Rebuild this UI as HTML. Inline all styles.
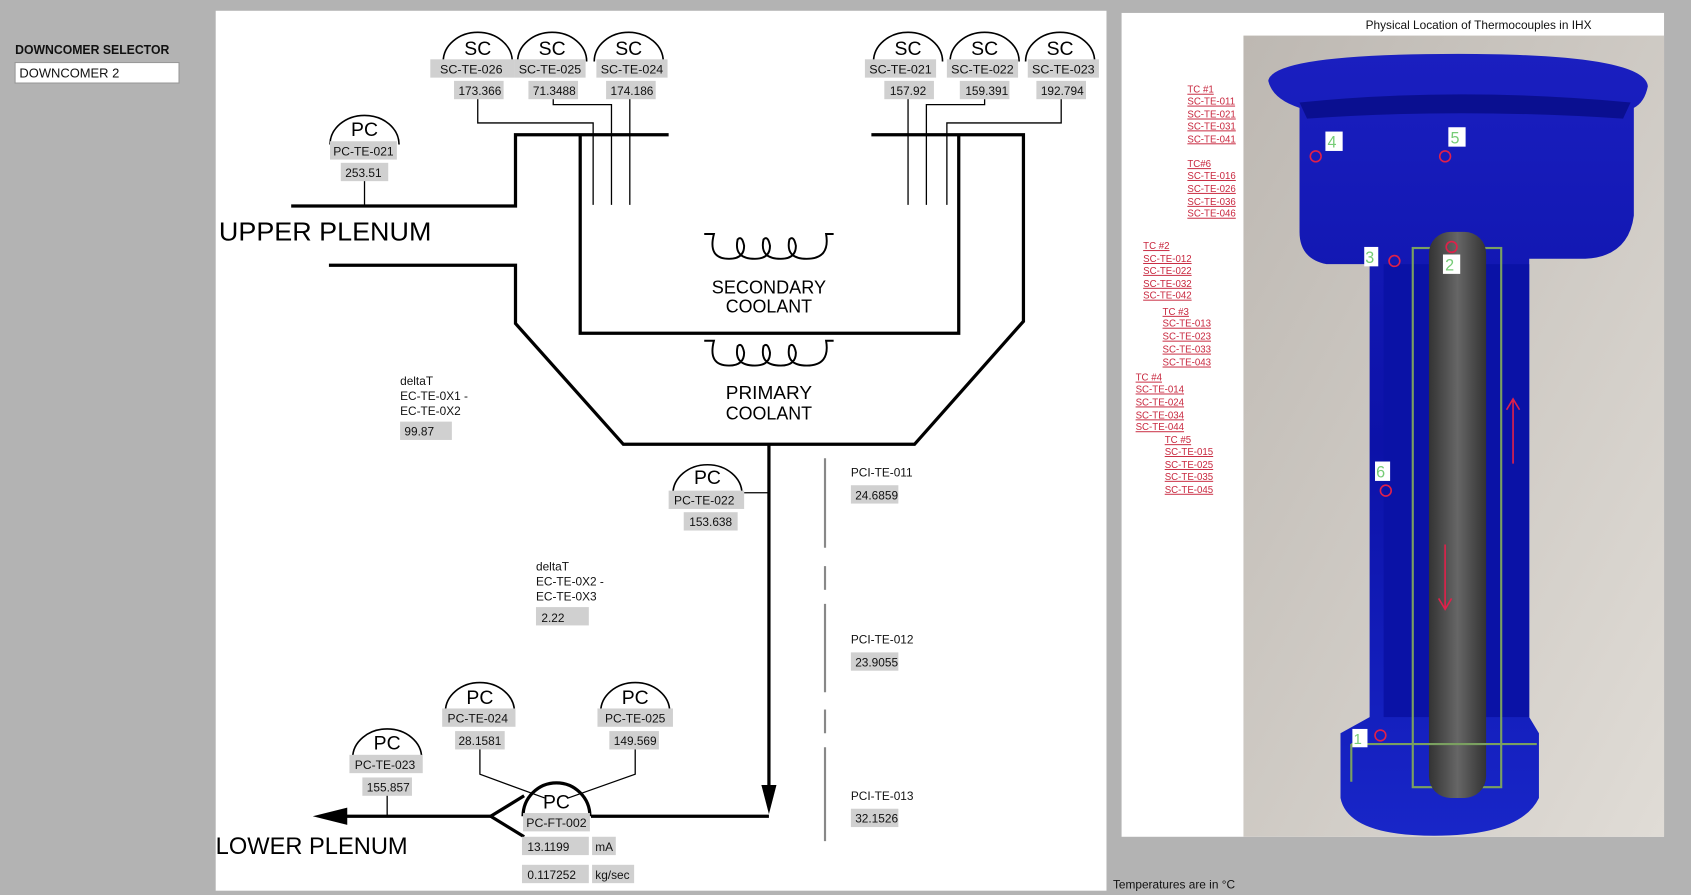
<!DOCTYPE html>
<html><head><meta charset="utf-8"><style>
html,body{margin:0;padding:0;background:#b3b3b3;}
svg{display:block;}
text{font-family:"Liberation Sans",sans-serif;}
.tag{fill:#d0d0d0;}
.t{font-size:11px;fill:#111;}
.lnk{font-size:9px;fill:#c8283f;text-decoration:underline;}
</style></head><body>
<svg width="1691" height="895" viewBox="0 0 1568 830" preserveAspectRatio="none" xmlns="http://www.w3.org/2000/svg">
<defs>
<linearGradient id="bg" x1="0" y1="0" x2="1" y2="1"><stop offset="0" stop-color="#bdb8b2"/><stop offset="1" stop-color="#e0dcd6"/></linearGradient>
<linearGradient id="cup" x1="0" y1="0" x2="0" y2="1"><stop offset="0" stop-color="#1a1fc0"/><stop offset="0.5" stop-color="#0c12a8"/><stop offset="1" stop-color="#1826c8"/></linearGradient>
<linearGradient id="tube" x1="0" y1="0" x2="1" y2="0"><stop offset="0" stop-color="#333"/><stop offset="0.5" stop-color="#666"/><stop offset="1" stop-color="#333"/></linearGradient>
</defs>
<rect width="1568" height="830" fill="#b3b3b3"/>
<text x="14" y="50" font-size="12" font-weight="bold" fill="#111" textLength="143" lengthAdjust="spacingAndGlyphs">DOWNCOMER SELECTOR</text>
<rect x="14" y="58" width="152" height="19" fill="#fff" stroke="#999"/>
<text x="18" y="72" font-size="12" fill="#111">DOWNCOMER 2</text>
<rect x="200" y="10" width="826" height="816" fill="#fff"/>

<g stroke="#000" stroke-width="3" fill="none">
<path d="M270 191 H478 V125 H620"/>
<path d="M538 125 V309 H889 V125"/>
<path d="M808 125 H949 V298 L848 412 H578 L478 300 V246 H305"/>
<path d="M713 412 V745"/>
<path d="M713 757 H548"/>
<path d="M455 757 H318"/>
<path d="M486 738 L455 757 L486 776"/>
</g>
<polygon points="713,755 706,728 720,728" fill="#000"/>
<polygon points="290,757 322,749 322,765" fill="#000"/>
<g stroke="#000" stroke-width="1.2" fill="none">
<path d="M443 91 V114 H550 V190"/>
<path d="M513 91 V97 H567 V190"/>
<path d="M584 91 V190"/>
<path d="M842 91 V190"/>
<path d="M913 91 V97 H859 V190"/>
<path d="M984 91 V114 H878 V190"/>
<path d="M338 167 V191"/>
<path d="M690 457 H713"/>
<path d="M359 737 V757"/>
<path d="M445 694 V718 L505 740"/>
<path d="M589 694 V718 L527 740"/>
</g>
<g stroke="#000" stroke-width="1.8" fill="none">
<path d="M653 217 H662 Q656 240 676 240 Q690 240 690 228 Q688 218 684 222 Q680 240 700 240 Q714 240 714 228 Q712 218 708 222 Q704 240 724 240 Q738 240 738 228 Q736 218 732 222 Q728 240 748 240 Q770 240 766 217 H773"/>
<path d="M653 316 H662 Q656 339 676 339 Q690 339 690 327 Q688 317 684 321 Q680 339 700 339 Q714 339 714 327 Q712 317 708 321 Q704 339 724 339 Q738 339 738 327 Q736 317 732 321 Q728 339 748 339 Q770 339 766 316 H773"/>
</g>
<g font-size="17" fill="#000" text-anchor="middle">
<text x="713" y="272" textLength="106" lengthAdjust="spacingAndGlyphs">SECONDARY</text><text x="713" y="290" textLength="80" lengthAdjust="spacingAndGlyphs">COOLANT</text>
<text x="713" y="370" textLength="80" lengthAdjust="spacingAndGlyphs">PRIMARY</text><text x="713" y="389" textLength="80" lengthAdjust="spacingAndGlyphs">COOLANT</text>
</g>
<text x="203" y="223" font-size="24" fill="#000" textLength="197" lengthAdjust="spacingAndGlyphs">UPPER  PLENUM</text>
<text x="200" y="792" font-size="22" fill="#000" textLength="178" lengthAdjust="spacingAndGlyphs">LOWER  PLENUM</text>

<g stroke="#000" stroke-width="1.5" fill="none">
<path d="M411 57 A32 27 0 0 1 475 57"/><path d="M480 57 A32 27 0 0 1 544 57"/><path d="M551 57 A32 27 0 0 1 615 57"/>
<path d="M810 57 A32 27 0 0 1 874 57"/><path d="M881 57 A32 27 0 0 1 945 57"/><path d="M951 57 A32 27 0 0 1 1015 57"/>
<path d="M306 134 A32 27 0 0 1 370 134"/>
<path d="M624 458 A32 27 0 0 1 688 458"/>
<path d="M327 703 A32 27 0 0 1 391 703"/>
<path d="M413 660 A32 27 0 0 1 477 660"/>
<path d="M557 660 A32 27 0 0 1 621 660"/>
</g>
<path d="M485 757 A31 31 0 0 1 547 757" stroke="#000" stroke-width="3" fill="none"/>
<g font-size="18" fill="#000" text-anchor="middle">
<text x="443" y="51">SC</text><text x="512" y="51">SC</text><text x="583" y="51">SC</text>
<text x="842" y="51">SC</text><text x="913" y="51">SC</text><text x="983" y="51">SC</text>
<text x="338" y="126">PC</text><text x="656" y="449">PC</text><text x="359" y="695">PC</text>
<text x="445" y="653">PC</text><text x="589" y="653">PC</text><text x="516" y="750">PC</text>
</g>
<g class="tag">
<rect x="399" y="55" width="78" height="17"/><rect x="421" y="75" width="46" height="17"/>
<rect x="477" y="55" width="66" height="17"/><rect x="490" y="75" width="46" height="17"/>
<rect x="553" y="55" width="66" height="17"/><rect x="562" y="75" width="46" height="17"/>
<rect x="802" y="55" width="66" height="17"/><rect x="820" y="75" width="46" height="17"/>
<rect x="878" y="55" width="66" height="17"/><rect x="890" y="75" width="46" height="17"/>
<rect x="953" y="55" width="66" height="17"/><rect x="961" y="75" width="46" height="17"/>
<rect x="306" y="131" width="62" height="17"/><rect x="316" y="151" width="44" height="17"/>
<rect x="620" y="455" width="70" height="17"/><rect x="634" y="475" width="50" height="17"/>
<rect x="324" y="700" width="68" height="17"/><rect x="336" y="721" width="46" height="17"/>
<rect x="410" y="657" width="68" height="17"/><rect x="422" y="678" width="46" height="17"/>
<rect x="554" y="657" width="70" height="17"/><rect x="565" y="678" width="46" height="17"/>
<rect x="485" y="754" width="62" height="17"/>
<rect x="484" y="776" width="62" height="17"/><rect x="549" y="776" width="22" height="17"/>
<rect x="484" y="802" width="62" height="17"/><rect x="549" y="802" width="39" height="17"/>
<rect x="371" y="391" width="48" height="17"/><rect x="497" y="563" width="49" height="17"/>
<rect x="789" y="450" width="44" height="17"/><rect x="789" y="605" width="44" height="17"/><rect x="789" y="750" width="44" height="17"/>
</g>
<g class="t" text-anchor="middle">
<text x="437" y="68" textLength="58" lengthAdjust="spacingAndGlyphs">SC-TE-026</text><text x="445" y="88">173.366</text>
<text x="510" y="68" textLength="58" lengthAdjust="spacingAndGlyphs">SC-TE-025</text><text x="514" y="88">71.3488</text>
<text x="586" y="68" textLength="58" lengthAdjust="spacingAndGlyphs">SC-TE-024</text><text x="586" y="88">174.186</text>
<text x="835" y="68" textLength="58" lengthAdjust="spacingAndGlyphs">SC-TE-021</text><text x="842" y="88">157.92</text>
<text x="911" y="68" textLength="58" lengthAdjust="spacingAndGlyphs">SC-TE-022</text><text x="915" y="88">159.391</text>
<text x="986" y="68" textLength="58" lengthAdjust="spacingAndGlyphs">SC-TE-023</text><text x="985" y="88">192.794</text>
<text x="337" y="144" textLength="56" lengthAdjust="spacingAndGlyphs">PC-TE-021</text><text x="337" y="164">253.51</text>
<text x="653" y="468" textLength="56" lengthAdjust="spacingAndGlyphs">PC-TE-022</text><text x="659" y="488">153.638</text>
<text x="357" y="713" textLength="56" lengthAdjust="spacingAndGlyphs">PC-TE-023</text><text x="360" y="734">155.857</text>
<text x="443" y="670" textLength="56" lengthAdjust="spacingAndGlyphs">PC-TE-024</text><text x="445" y="691">28.1581</text>
<text x="589" y="670" textLength="56" lengthAdjust="spacingAndGlyphs">PC-TE-025</text><text x="589" y="691">149.569</text>
<text x="516" y="767" textLength="56" lengthAdjust="spacingAndGlyphs">PC-FT-002</text>
</g>
<g class="t">
<text x="489" y="789">13.1199</text><text x="552" y="789">mA</text>
<text x="489" y="815">0.117252</text><text x="552" y="815">kg/sec</text>
<text x="371" y="357">deltaT</text><text x="371" y="371">EC-TE-0X1 -</text><text x="371" y="385">EC-TE-0X2</text><text x="375" y="404">99.87</text>
<text x="497" y="529">deltaT</text><text x="497" y="543">EC-TE-0X2 -</text><text x="497" y="557">EC-TE-0X3</text><text x="502" y="577">2.22</text>
<text x="789" y="442">PCI-TE-011</text><text x="793" y="463">24.6859</text>
<text x="789" y="597">PCI-TE-012</text><text x="793" y="618">23.9055</text>
<text x="789" y="742">PCI-TE-013</text><text x="793" y="763">32.1526</text>
</g>
<g stroke="#888" stroke-width="2">
<line x1="765" y1="425" x2="765" y2="508"/><line x1="765" y1="525" x2="765" y2="547"/>
<line x1="765" y1="560" x2="765" y2="642"/><line x1="765" y1="658" x2="765" y2="680"/>
<line x1="765" y1="693" x2="765" y2="780"/>
</g>

<rect x="1040" y="12" width="503" height="764" fill="#fff"/>
<text x="1371" y="27" font-size="11" fill="#111" text-anchor="middle">Physical Location of Thermocouples in IHX</text>
<rect x="1153" y="33" width="390" height="743" fill="url(#bg)"/>
<path d="M1176 75 Q1180 50 1352 50 Q1525 50 1528 80 Q1525 95 1515 100 L1515 200 Q1510 238 1470 240 L1418 240 L1418 665 L1427 680 L1427 740 Q1410 775 1330 775 Q1250 775 1243 740 L1243 680 L1270 665 L1270 245 L1230 245 Q1205 240 1205 215 L1205 100 Q1180 92 1176 75 Z" fill="url(#cup)"/>
<path d="M1205 95 Q1352 80 1512 95 L1505 110 Q1352 100 1212 110 Z" fill="#0a0f90"/>
<rect x="1283" y="245" width="135" height="420" fill="#0a12a6"/>
<rect x="1310" y="230" width="82" height="500" fill="none" stroke="#7aa060" stroke-width="2"/>
<rect x="1325" y="215" width="53" height="525" rx="20" fill="url(#tube)"/>
<path d="M1253 690 H1425 M1253 690 V725" stroke="#7aa060" stroke-width="2" fill="none"/>
<rect x="1229" y="122" width="16" height="18" fill="#fff"/><text x="1231" y="137" font-size="15" fill="#7c7">4</text>
<rect x="1343" y="118" width="16" height="18" fill="#fff"/><text x="1345" y="133" font-size="15" fill="#7c7">5</text>
<rect x="1265" y="229" width="13" height="18" fill="#fff"/><text x="1266" y="244" font-size="15" fill="#7c7">3</text>
<rect x="1338" y="236" width="16" height="18" fill="#fff"/><text x="1340" y="251" font-size="15" fill="#7c7">2</text>
<rect x="1275" y="428" width="14" height="18" fill="#fff"/><text x="1276" y="443" font-size="15" fill="#7c7">6</text>
<rect x="1254" y="676" width="14" height="17" fill="#fff"/><text x="1255" y="690" font-size="14" fill="#7c7">1</text>
<g stroke="#e0204a" stroke-width="1.5" fill="none">
<circle cx="1220" cy="145" r="5"/><circle cx="1340" cy="145" r="5"/><circle cx="1293" cy="242" r="5"/><circle cx="1346" cy="229" r="5"/><circle cx="1285" cy="455" r="5"/><circle cx="1280" cy="682" r="5"/>
<path d="M1340 505 V565 M1334 555 L1340 565 L1346 555"/><path d="M1403 430 V370 M1397 380 L1403 370 L1409 380"/>
</g>
<g class="lnk">
<text x="1101" y="86">TC #1</text><text x="1101" y="97">SC-TE-011</text><text x="1101" y="109">SC-TE-021</text><text x="1101" y="120">SC-TE-031</text><text x="1101" y="132">SC-TE-041</text>
<text x="1101" y="155">TC#6</text><text x="1101" y="166">SC-TE-016</text><text x="1101" y="178">SC-TE-026</text><text x="1101" y="190">SC-TE-036</text><text x="1101" y="201">SC-TE-046</text>
<text x="1060" y="231">TC #2</text><text x="1060" y="243">SC-TE-012</text><text x="1060" y="254">SC-TE-022</text><text x="1060" y="266">SC-TE-032</text><text x="1060" y="277">SC-TE-042</text>
<text x="1078" y="292">TC #3</text><text x="1078" y="303">SC-TE-013</text><text x="1078" y="315">SC-TE-023</text><text x="1078" y="327">SC-TE-033</text><text x="1078" y="339">SC-TE-043</text>
<text x="1053" y="353">TC #4</text><text x="1053" y="364">SC-TE-014</text><text x="1053" y="376">SC-TE-024</text><text x="1053" y="388">SC-TE-034</text><text x="1053" y="399">SC-TE-044</text>
<text x="1080" y="411">TC #5</text><text x="1080" y="422">SC-TE-015</text><text x="1080" y="434">SC-TE-025</text><text x="1080" y="445">SC-TE-035</text><text x="1080" y="457">SC-TE-045</text>
</g>
<text x="1032" y="824" font-size="11" fill="#111">Temperatures are in °C</text>
</svg>
</body></html>
